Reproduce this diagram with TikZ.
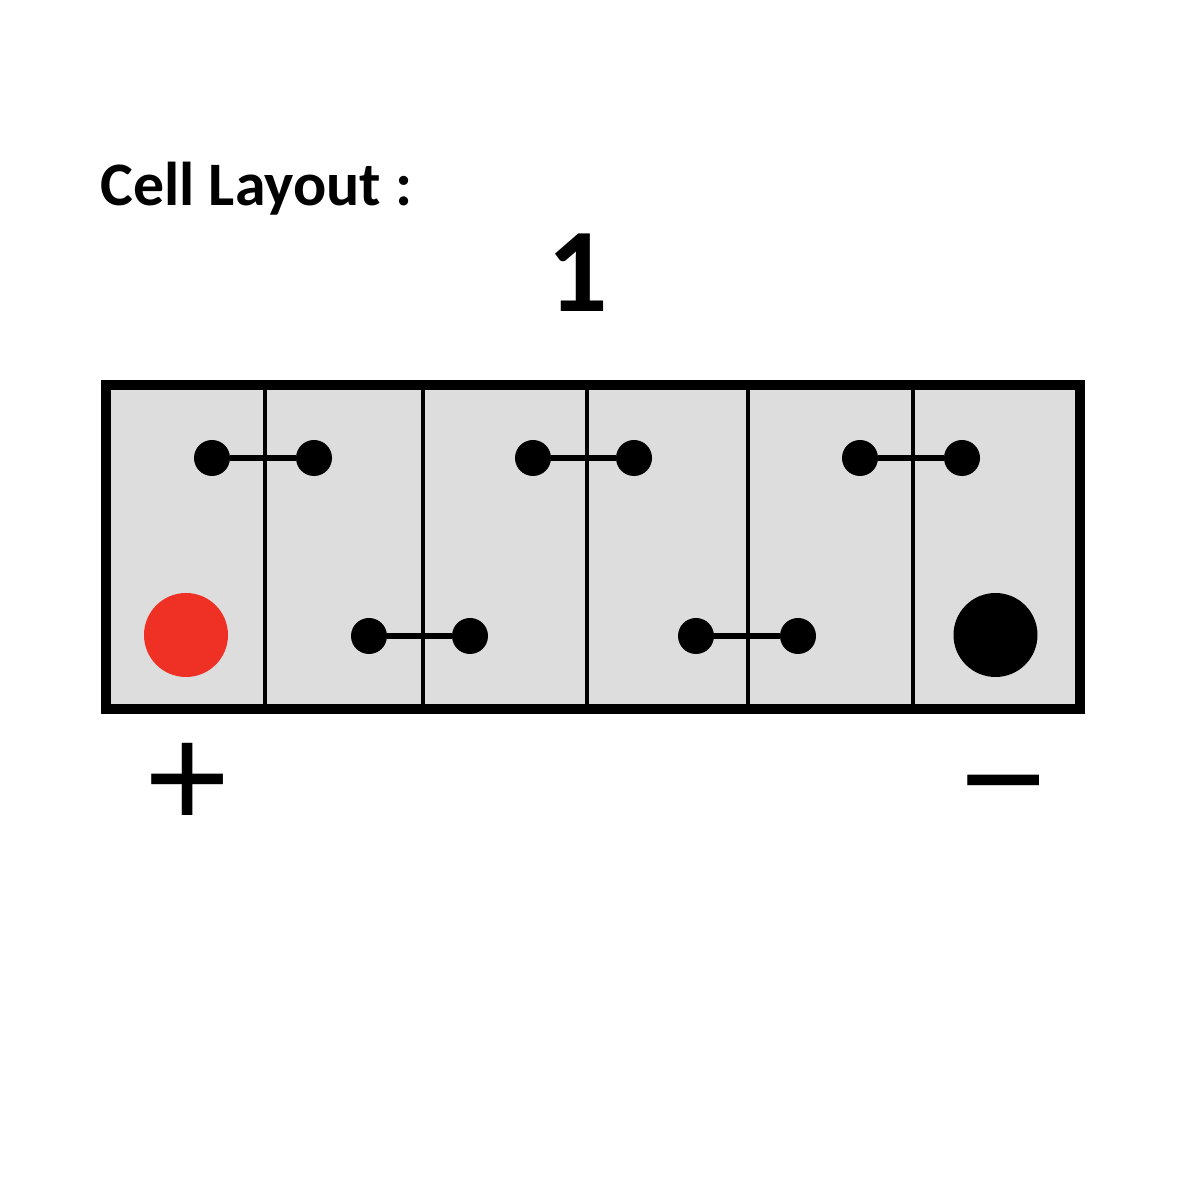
\documentclass[tikz,border=0pt]{standalone}
\usepackage{fontspec}
\setmainfont{Carlito}
\newfontfamily\signfont{Liberation Sans}
\definecolor{cellgray}{HTML}{DDDDDE}
\definecolor{posred}{HTML}{EE3124}
\tikzset{
    post/.style={circle,fill=black,inner sep=0pt,outer sep=0pt,minimum size=0.36cm},
    terminal/.style={circle,inner sep=0pt,outer sep=0pt,minimum size=0.84cm},
    sign/.style={inner sep=0pt,font=\signfont\fontsize{42}{42}\selectfont}
}
\begin{document}
\begin{tikzpicture}
        \useasboundingbox (0,0) rectangle (12,12);
        \fill[color=white] (0,0) rectangle (12,12);
        % case and cell walls
        \fill[color=cellgray] (1.06,4.91) rectangle (10.8,8.15);
        \foreach \x in {2.65,4.23,5.87,7.48,9.13}
            \draw[line width=0.045cm] (\x,4.91)--(\x,8.15);
        \draw[line width=0.1cm] (1.06,4.91) rectangle (10.8,8.15);
        % links between the cells
        \node[post] (a1) at (2.12,7.42){};
        \node[post] (a2) at (3.14,7.42){};
        \node[post] (b1) at (3.69,5.64){};
        \node[post] (b2) at (4.70,5.64){};
        \node[post] (c1) at (5.33,7.42){};
        \node[post] (c2) at (6.34,7.42){};
        \node[post] (d1) at (6.96,5.64){};
        \node[post] (d2) at (7.98,5.64){};
        \node[post] (e1) at (8.60,7.42){};
        \node[post] (e2) at (9.62,7.42){};
        \foreach \p in {a,b,c,d,e}
            \draw[line width=0.06cm] (\p1)--(\p2);
        % terminals
        \node[terminal,fill=posred] (plus) at (1.86,5.65){};
        \node[terminal,fill=black] (minus) at (9.955,5.65){};
        \node[sign] at (1.88,4.14){+};
        \node[sign] at (10.04,3.98){\symbol{"2212}};
        % titles
        \node[anchor=west,inner sep=0pt] at (1.0,10.11){\fontsize{17.6}{21}\selectfont\bfseries Cell Layout :};
        \node[inner sep=0pt] at (5.78,9.27){\fontsize{34}{40}\selectfont\bfseries 1};
    \end{tikzpicture}
\end{document}
